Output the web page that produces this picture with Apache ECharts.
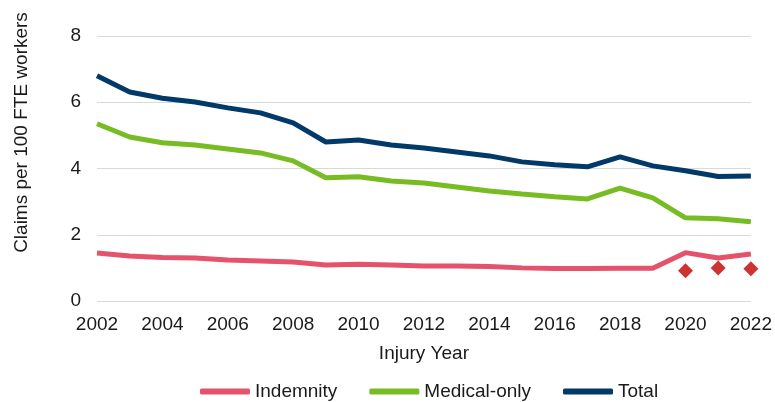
<!DOCTYPE html>
<html>
<head>
<meta charset="utf-8">
<script src="https://cdn.jsdelivr.net/npm/echarts@6/dist/echarts.min.js"></script>
<style>
  html, body { margin: 0; padding: 0; background: #fff; }
  #chart { width: 775px; height: 402px; }
</style>
</head>
<body>
<div id="chart"></div>
<script>
// 数据
var years = ['2002', '2003', '2004', '2005', '2006', '2007', '2008', '2009', '2010', '2011', '2012',
  '2013', '2014', '2015', '2016', '2017', '2018', '2019', '2020', '2021', '2022'];
var indemnity = [1.45, 1.36, 1.31, 1.30, 1.24, 1.21, 1.18, 1.09, 1.11, 1.09, 1.06,
  1.06, 1.04, 1.00, 0.98, 0.98, 0.99, 0.99, 1.46, 1.30, 1.42];
var medicalOnly = [5.35, 4.95, 4.78, 4.71, 4.59, 4.47, 4.23, 3.72, 3.75, 3.62, 3.56,
  3.44, 3.32, 3.23, 3.15, 3.08, 3.41, 3.11, 2.51, 2.48, 2.39];
var total = [6.80, 6.31, 6.12, 6.01, 5.83, 5.68, 5.38, 4.80, 4.86, 4.71, 4.62,
  4.50, 4.38, 4.20, 4.11, 4.05, 4.35, 4.08, 3.93, 3.76, 3.77];
var adjusted = [null, null, null, null, null, null, null, null, null, null, null,
  null, null, null, null, null, null, null, 0.91, 1.00, 0.97];
var yTicks = [0, 2, 4, 6, 8];

var chart = echarts.init(document.getElementById('chart'));
var font = 'Liberation Sans, Arial, sans-serif';

var option = {
  animation: false,
  grid: { left: 97, right: 22, top: 36, bottom: 101 },
  legend: {
    top: 377,
    left: 195,
    itemWidth: 50,
    itemHeight: 6,
    itemGap: 32,
    icon: 'roundRect',
    textStyle: { fontFamily: font, fontSize: 19, color: '#1a1a1a' },
    data: ['Indemnity', 'Medical-only', 'Total']
  },
  xAxis: {
    type: 'category',
    data: years,
    boundaryGap: false,
    name: 'Injury Year',
    nameLocation: 'middle',
    nameGap: 43,
    nameTextStyle: { fontFamily: font, fontSize: 19, color: '#1a1a1a' },
    axisLine: { show: false },
    axisTick: { show: false },
    axisLabel: {
      interval: 1,
      margin: 14,
      fontFamily: font, fontSize: 19, color: '#1a1a1a'
    }
  },
  yAxis: {
    type: 'value',
    min: yTicks[0],
    max: yTicks[yTicks.length - 1],
    interval: 2,
    name: 'Claims per 100 FTE workers',
    nameLocation: 'middle',
    nameRotate: 90,
    nameGap: 66,
    nameTextStyle: { fontFamily: font, fontSize: 19, color: '#1a1a1a', padding: [0, 0, 0, 72] },
    axisLine: { show: false },
    axisTick: { show: false },
    axisLabel: { margin: 16, fontFamily: font, fontSize: 19, color: '#1a1a1a' },
    splitLine: { lineStyle: { color: '#d9d9d9', width: 1 } }
  },
  series: [
    {
      name: 'Indemnity',
      type: 'line',
      data: indemnity,
      symbol: 'none',
      color: '#e5526b',
      lineStyle: { width: 5, color: '#e5526b' }
    },
    {
      name: 'Medical-only',
      type: 'line',
      data: medicalOnly,
      symbol: 'none',
      color: '#77bc22',
      lineStyle: { width: 5, color: '#77bc22' }
    },
    {
      name: 'Total',
      type: 'line',
      data: total,
      symbol: 'none',
      color: '#013a69',
      lineStyle: { width: 5, color: '#013a69' }
    },
    {
      name: 'Adjusted',
      type: 'scatter',
      data: adjusted,
      symbol: 'diamond',
      symbolSize: 15,
      itemStyle: { color: '#c00000' }
    }
  ]
};
chart.setOption(option);
</script>
</body>
</html>
